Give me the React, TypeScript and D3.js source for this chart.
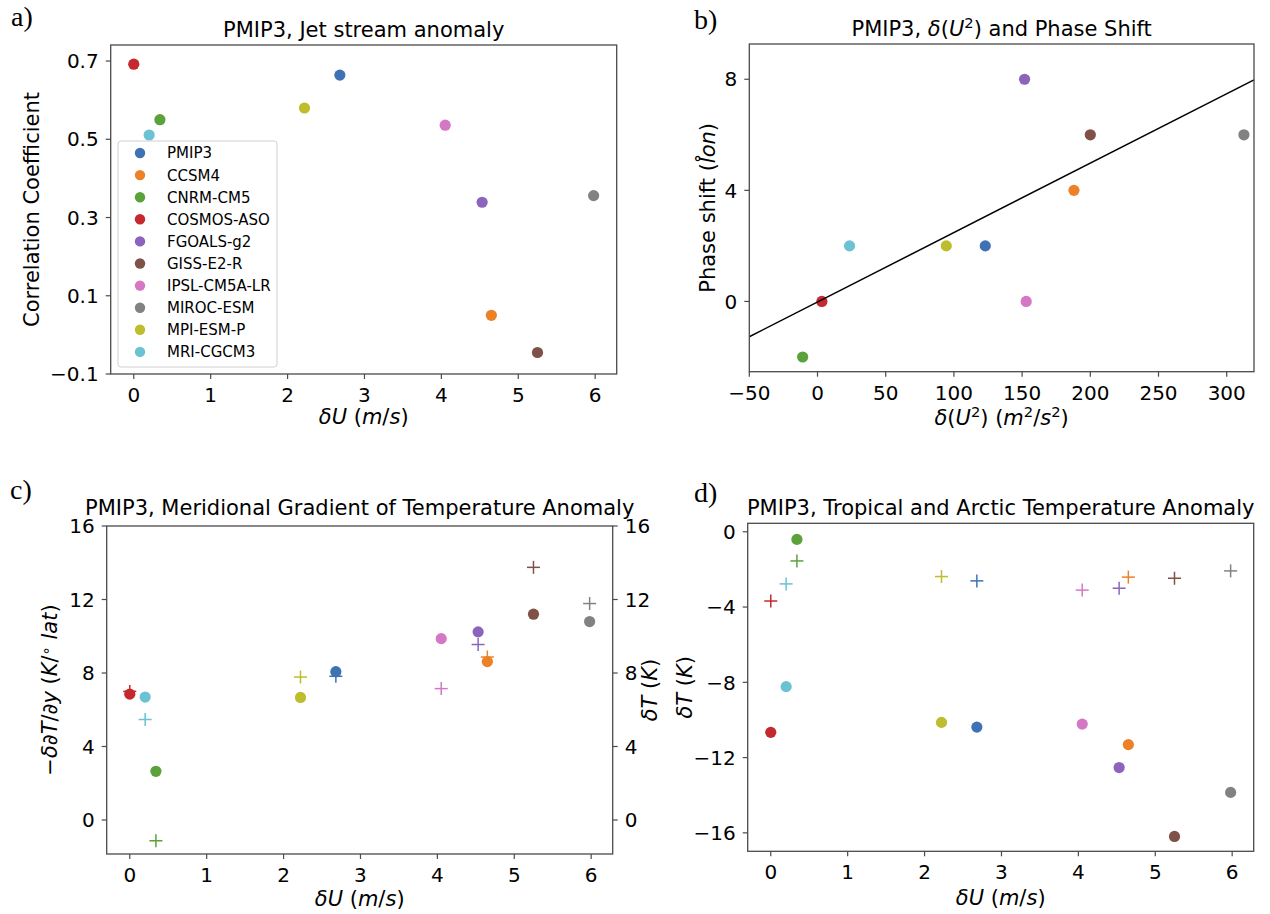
import React from 'react';
import * as d3 from 'd3';

// PMIP3 ensemble members
const models = [
  'PMIP3', 'CCSM4', 'CNRM-CM5', 'COSMOS-ASO', 'FGOALS-g2',
  'GISS-E2-R', 'IPSL-CM5A-LR', 'MIROC-ESM', 'MPI-ESM-P', 'MRI-CGCM3',
];
const modelColors = [
  '#3f72b5', '#ec8127', '#5ba23a', '#c5282e', '#8b65bd',
  '#7f5248', '#d477c4', '#828282', '#bdbd2e', '#6bc2d3',
];

// Jet stream anomaly δU (m/s)
const deltaU = [2.68, 4.65, 0.34, 0.0, 4.53, 5.25, 4.05, 5.98, 2.22, 0.2];
// Pattern correlation coefficient
const correlation = [0.664, 0.05, 0.55, 0.692, 0.339, -0.045, 0.536, 0.356, 0.58, 0.511];
// δ(U^2) (m^2/s^2)
const deltaU2 = [123, 188, -10.9, 3.2, 151.8, 200, 153, 312.6, 94.4, 23.5];
// Phase shift (deg lon)
const phaseShift = [2, 4, -2, 0, 8, 6, 0, 6, 2, 2];
// Regression line of phase shift on δ(U^2)
const fitSlope = 0.025;
const fitIntercept = -0.02;
// Meridional gradient anomaly −δ∂T/∂y (K/° lat)
const gradientAnomaly = [8.07, 8.62, 2.65, 6.85, 10.24, 11.2, 9.87, 10.8, 6.67, 6.69];
// Tropical minus Arctic temperature anomaly δT (K)
const tempDifference = [7.82, 8.87, -1.13, 7.0, 9.55, 13.75, 7.15, 11.78, 7.78, 5.47];
// Tropical temperature anomaly δT (K)
const tropicalT = [-2.61, -2.41, -1.55, -3.68, -3.0, -2.47, -3.1, -2.08, -2.38, -2.77];
// Arctic temperature anomaly δT (K)
const arcticT = [-10.38, -11.31, -0.405, -10.66, -12.53, -16.19, -10.22, -13.85, -10.13, -8.23];

// Tick values
const ticksDU = [0, 1, 2, 3, 4, 5, 6];
const ticksCorr = [-0.1, 0.1, 0.3, 0.5, 0.7];
const ticksDU2 = [-50, 0, 50, 100, 150, 200, 250, 300];
const ticksPhase = [0, 4, 8];
const ticksGrad = [0, 4, 8, 12, 16];
const ticksT = [-16, -12, -8, -4, 0];

const SANS = "'DejaVu Sans', sans-serif";
const SERIF = "'Liberation Serif', 'DejaVu Serif', serif";
const SPINE = '#4a4a4a';
const TICK_FS = 20;
const LABEL_FS = 21;
const TITLE_FS = 21;
const TICK_LEN = 5;

type Box = { left: number; top: number; right: number; bottom: number };

const fmtNum = (v: number) => {
  const s = Number.isInteger(v) ? String(Math.abs(v)) : Math.abs(v).toFixed(1);
  return v < 0 ? '\u2212' + s : s;
};

function Frame({ box }: { box: Box }) {
  return (
    <rect
      x={box.left}
      y={box.top}
      width={box.right - box.left}
      height={box.bottom - box.top}
      fill="none"
      stroke={SPINE}
      strokeWidth={1.3}
    />
  );
}

function XAxis({ box, scale, ticks }: { box: Box; scale: d3.ScaleLinear<number, number>; ticks: number[] }) {
  return (
    <g>
      {ticks.map((t) => (
        <g key={t}>
          <line x1={scale(t)} x2={scale(t)} y1={box.bottom} y2={box.bottom + TICK_LEN} stroke={SPINE} strokeWidth={1.2} />
          <text x={scale(t)} y={box.bottom + 28} textAnchor="middle" fontFamily={SANS} fontSize={TICK_FS}>
            {fmtNum(t)}
          </text>
        </g>
      ))}
    </g>
  );
}

function YAxis({
  box, scale, ticks, side = 'left',
}: { box: Box; scale: d3.ScaleLinear<number, number>; ticks: number[]; side?: 'left' | 'right' }) {
  const x0 = side === 'left' ? box.left : box.right;
  const dir = side === 'left' ? -1 : 1;
  return (
    <g>
      {ticks.map((t) => (
        <g key={t}>
          <line x1={x0} x2={x0 + dir * TICK_LEN} y1={scale(t)} y2={scale(t)} stroke={SPINE} strokeWidth={1.2} />
          <text
            x={x0 + dir * 12}
            y={scale(t)}
            dy="0.36em"
            textAnchor={side === 'left' ? 'end' : 'start'}
            fontFamily={SANS}
            fontSize={TICK_FS}
          >
            {fmtNum(t)}
          </text>
        </g>
      ))}
    </g>
  );
}

function Dot({ x, y, color, r = 5.6 }: { x: number; y: number; color: string; r?: number }) {
  return <circle cx={x} cy={y} r={r} fill={color} />;
}

function Plus({ x, y, color }: { x: number; y: number; color: string }) {
  const h = 6.5;
  return (
    <g stroke={color} strokeWidth={1.5}>
      <line x1={x - h} x2={x + h} y1={y} y2={y} />
      <line x1={x} x2={x} y1={y - h} y2={y + h} />
    </g>
  );
}

function VLabel({ x, y, children }: { x: number; y: number; children: React.ReactNode }) {
  return (
    <text
      transform={`translate(${x},${y}) rotate(-90)`}
      textAnchor="middle"
      fontFamily={SANS}
      fontSize={LABEL_FS}
    >
      {children}
    </text>
  );
}

function Title({ box, children, lift = 0 }: { box: Box; children: React.ReactNode; lift?: number }) {
  return (
    <text
      x={(box.left + box.right) / 2}
      y={box.top - 8.5 - lift}
      textAnchor="middle"
      fontFamily={SANS}
      fontSize={TITLE_FS}
    >
      {children}
    </text>
  );
}

function DeltaULabel({ box, y }: { box: Box; y: number }) {
  return (
    <text x={(box.left + box.right) / 2} y={y} textAnchor="middle" fontFamily={SANS} fontSize={LABEL_FS}>
      <tspan fontStyle="italic">δU</tspan>
      <tspan> (</tspan>
      <tspan fontStyle="italic">m</tspan>
      <tspan>/</tspan>
      <tspan fontStyle="italic">s</tspan>
      <tspan>)</tspan>
    </text>
  );
}

function PanelTag({ x, y, label }: { x: number; y: number; label: string }) {
  return (
    <text x={x} y={y} fontFamily={SERIF} fontSize={28}>
      {label}
    </text>
  );
}

// a) jet stream anomaly vs correlation
function PanelA() {
  const box: Box = { left: 110.7, top: 45, right: 616.7, bottom: 374 };
  const x = d3.scaleLinear().domain([-0.3, 6.28]).range([box.left, box.right]);
  const y = d3.scaleLinear().domain([-0.1, 0.741]).range([box.bottom, box.top]);
  const legend = { left: 118, top: 141, right: 277, bottom: 367 };
  const rowGap = 22.1;
  return (
    <g>
      <PanelTag x={11} y={26} label="a)" />
      <Title box={box}>PMIP3, Jet stream anomaly</Title>
      {models.map((m, i) => (
        <Dot key={m} x={x(deltaU[i])} y={y(correlation[i])} color={modelColors[i]} />
      ))}
      <rect
        x={legend.left}
        y={legend.top}
        width={legend.right - legend.left}
        height={legend.bottom - legend.top}
        rx={3}
        fill="#fff"
        fillOpacity={0.8}
        stroke="#d0d0d0"
        strokeWidth={1}
      />
      {models.map((m, i) => (
        <g key={m}>
          <Dot x={legend.left + 22} y={legend.top + 12 + i * rowGap} color={modelColors[i]} r={5.2} />
          <text x={legend.left + 49} y={legend.top + 12 + i * rowGap} dy="0.36em" fontFamily={SANS} fontSize={15}>
            {m}
          </text>
        </g>
      ))}
      <Frame box={box} />
      <XAxis box={box} scale={x} ticks={ticksDU} />
      <YAxis box={box} scale={y} ticks={ticksCorr} />
      <DeltaULabel box={box} y={424} />
      <VLabel x={39} y={(box.top + box.bottom) / 2}>Correlation Coefficient</VLabel>
    </g>
  );
}

// b) δ(U^2) vs phase shift with regression line
function PanelB() {
  const box: Box = { left: 749.3, top: 44, right: 1254, bottom: 371.7 };
  const xd: [number, number] = [-50, 320];
  const x = d3.scaleLinear().domain(xd).range([box.left, box.right]);
  const y = d3.scaleLinear().domain([-2.53, 9.27]).range([box.bottom, box.top]);
  const fit = d3
    .line<number>()
    .x((v) => x(v))
    .y((v) => y(fitSlope * v + fitIntercept));
  const tUp = TITLE_FS * 0.38;
  const lUp = LABEL_FS * 0.38;
  const supT = TITLE_FS * 0.7;
  const supL = LABEL_FS * 0.7;
  return (
    <g>
      <PanelTag x={694} y={29} label="b)" />
      <Title box={box}>
        <tspan>PMIP3, </tspan>
        <tspan fontStyle="italic">δ</tspan>
        <tspan>(</tspan>
        <tspan fontStyle="italic">U</tspan>
        <tspan dy={-tUp} fontSize={supT}>2</tspan>
        <tspan dy={tUp}>) and Phase Shift</tspan>
      </Title>
      {models.map((m, i) => (
        <Dot key={m} x={x(deltaU2[i])} y={y(phaseShift[i])} color={modelColors[i]} />
      ))}
      <path d={fit(xd) || ''} fill="none" stroke="#000" strokeWidth={1.5} />
      <Frame box={box} />
      <XAxis box={box} scale={x} ticks={ticksDU2} />
      <YAxis box={box} scale={y} ticks={ticksPhase} />
      <text x={(box.left + box.right) / 2} y={425} textAnchor="middle" fontFamily={SANS} fontSize={LABEL_FS}>
        <tspan fontStyle="italic">δ</tspan>
        <tspan>(</tspan>
        <tspan fontStyle="italic">U</tspan>
        <tspan dy={-lUp} fontSize={supL}>2</tspan>
        <tspan dy={lUp}>) (</tspan>
        <tspan fontStyle="italic">m</tspan>
        <tspan dy={-lUp} fontSize={supL}>2</tspan>
        <tspan dy={lUp}>/</tspan>
        <tspan fontStyle="italic">s</tspan>
        <tspan dy={-lUp} fontSize={supL}>2</tspan>
        <tspan dy={lUp}>)</tspan>
      </text>
      <VLabel x={715} y={(box.top + box.bottom) / 2}>
        <tspan>Phase shift (</tspan>
        <tspan fontStyle="italic">{'l\u030Aon'}</tspan>
        <tspan>)</tspan>
      </VLabel>
    </g>
  );
}

// c) meridional temperature gradient (dots, left) and tropical−Arctic δT (plus, right)
function PanelC() {
  const box: Box = { left: 106.7, top: 526, right: 612.7, bottom: 854 };
  const x = d3.scaleLinear().domain([-0.3, 6.28]).range([box.left, box.right]);
  const yL = d3.scaleLinear().domain([-1.85, 16]).range([box.bottom, box.top]);
  const yR = d3.scaleLinear().domain([-1.85, 16]).range([box.bottom, box.top]);
  return (
    <g>
      <PanelTag x={10} y={499} label="c)" />
      <Title box={box} lift={3}>PMIP3, Meridional Gradient of Temperature Anomaly</Title>
      {models.map((m, i) => (
        <Dot key={m} x={x(deltaU[i])} y={yL(gradientAnomaly[i])} color={modelColors[i]} />
      ))}
      {models.map((m, i) => (
        <Plus key={m} x={x(deltaU[i])} y={yR(tempDifference[i])} color={modelColors[i]} />
      ))}
      <Frame box={box} />
      <XAxis box={box} scale={x} ticks={ticksDU} />
      <YAxis box={box} scale={yL} ticks={ticksGrad} />
      <YAxis box={box} scale={yR} ticks={ticksGrad} side="right" />
      <DeltaULabel box={box} y={906} />
      <VLabel x={56.5} y={(box.top + box.bottom) / 2}>
        <tspan>{'\u2212'}</tspan>
        <tspan fontStyle="italic">δ∂T</tspan>
        <tspan>/</tspan>
        <tspan fontStyle="italic">∂y</tspan>
        <tspan> (</tspan>
        <tspan fontStyle="italic">K</tspan>
        <tspan>/</tspan>
        <tspan dy={-6} fontSize={LABEL_FS * 0.7}>{'\u2218'}</tspan>
        <tspan dy={6} fontStyle="italic">{' lat'}</tspan>
        <tspan>)</tspan>
      </VLabel>
      <VLabel x={657} y={(box.top + box.bottom) / 2}>
        <tspan fontStyle="italic">δT</tspan>
        <tspan> (</tspan>
        <tspan fontStyle="italic">K</tspan>
        <tspan>)</tspan>
      </VLabel>
    </g>
  );
}

// d) tropical (plus) and Arctic (dots) temperature anomaly
function PanelD() {
  const box: Box = { left: 747.7, top: 523.3, right: 1253.7, bottom: 851.3 };
  const x = d3.scaleLinear().domain([-0.3, 6.28]).range([box.left, box.right]);
  const y = d3.scaleLinear().domain([-16.98, 0.45]).range([box.bottom, box.top]);
  return (
    <g>
      <PanelTag x={694} y={502} label="d)" />
      <Title box={box}>PMIP3, Tropical and Arctic Temperature Anomaly</Title>
      {models.map((m, i) => (
        <Dot key={m} x={x(deltaU[i])} y={y(arcticT[i])} color={modelColors[i]} />
      ))}
      {models.map((m, i) => (
        <Plus key={m} x={x(deltaU[i])} y={y(tropicalT[i])} color={modelColors[i]} />
      ))}
      <Frame box={box} />
      <XAxis box={box} scale={x} ticks={ticksDU} />
      <YAxis box={box} scale={y} ticks={ticksT} />
      <DeltaULabel box={box} y={905} />
      <VLabel x={692} y={(box.top + box.bottom) / 2}>
        <tspan fontStyle="italic">δT</tspan>
        <tspan> (</tspan>
        <tspan fontStyle="italic">K</tspan>
        <tspan>)</tspan>
      </VLabel>
    </g>
  );
}

export default function App() {
  return (
    <svg
      width={1270}
      height={914}
      viewBox="0 0 1270 914"
      style={{ position: 'absolute', left: 0, top: 0, background: '#fff' }}
    >
      <rect width={1270} height={914} fill="#fff" />
      <PanelA />
      <PanelB />
      <PanelC />
      <PanelD />
    </svg>
  );
}
